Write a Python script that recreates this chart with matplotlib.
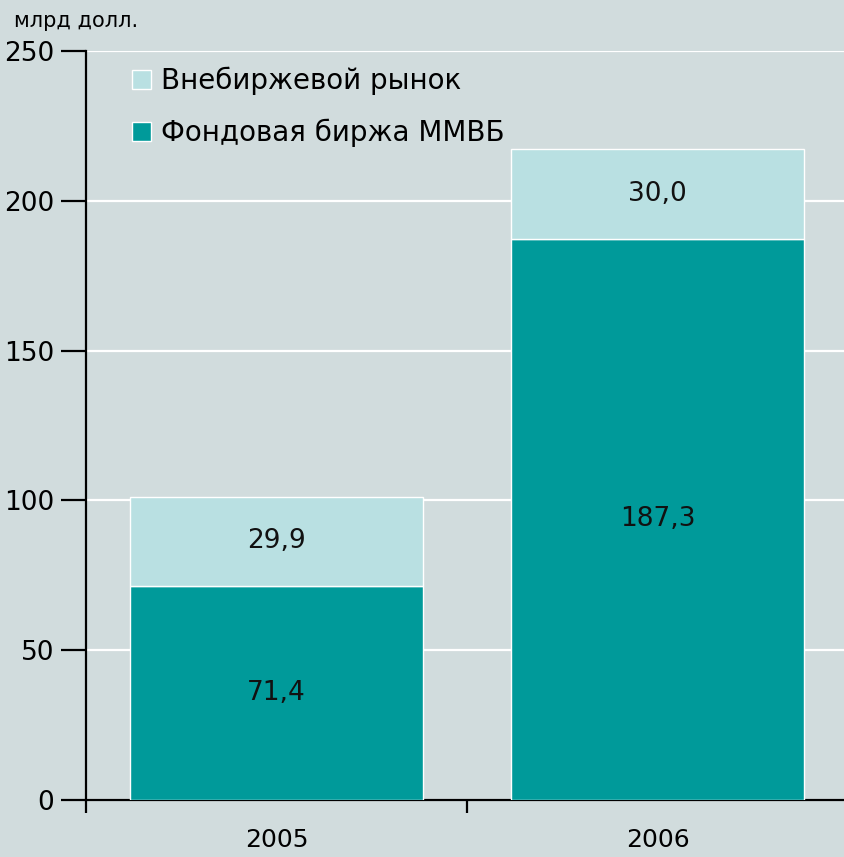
import matplotlib.pyplot as plt
from matplotlib.patches import Patch

years = ['2005', '2006']
exchange = [71.4, 187.3]   # Фондовая биржа ММВБ
otc = [29.9, 30.0]         # Внебиржевой рынок
exchange_labels = ['71,4', '187,3']
otc_labels = ['29,9', '30,0']

dark = '#009a9a'
light = '#b9e0e2'
bg = '#d1dcdd'

plt.rcParams['font.family'] = ['DejaVu Sans']

fig = plt.figure(figsize=(8.44, 8.57), dpi=100, facecolor=bg)
ax = fig.add_axes([0.1019, 0.0665, 0.903, 0.874])
ax.set_facecolor(bg)

x = range(len(years))
ax.bar(x, exchange, width=0.77, color=dark, edgecolor='white', linewidth=1, zorder=3)
ax.bar(x, otc, width=0.77, bottom=exchange, color=light, edgecolor='white', linewidth=1, zorder=3)

for i in x:
    ax.text(i, exchange[i] / 2, exchange_labels[i], ha='center', va='center',
            fontsize=19, color='#111111', zorder=4)
    ax.text(i, exchange[i] + otc[i] / 2, otc_labels[i], ha='center', va='center',
            fontsize=19, color='#111111', zorder=4)

ax.set_ylim(0, 250)
ax.set_xlim(-0.5, 1.5)
ax.set_yticks([0, 50, 100, 150, 200, 250])
ax.set_xticks([-0.5, 0.5])
ax.set_xticklabels([])
ax.set_xticks([0, 1], minor=True)
ax.set_xticklabels(years, minor=True)
ax.tick_params(axis='x', which='minor', length=0, labelsize=18, pad=20)
ax.tick_params(axis='x', which='major', length=9, width=1.6, direction='out')
ax.tick_params(axis='y', length=18, width=1.6, labelsize=19, pad=5)

ax.yaxis.grid(True, color='white', linewidth=1.6, zorder=1)
ax.set_axisbelow(True)
for s in ['top', 'right']:
    ax.spines[s].set_visible(False)
for s in ['left', 'bottom']:
    ax.spines[s].set_linewidth(1.6)

handles = [Patch(facecolor=light, edgecolor='white', label='Внебиржевой рынок'),
           Patch(facecolor=dark, edgecolor='white', label='Фондовая биржа ММВБ')]
ax.legend(handles=handles, loc='upper left', bbox_to_anchor=(0.027, 1.012),
          frameon=False, fontsize=20, handlelength=0.7, handleheight=0.7,
          handletextpad=0.35, labelspacing=0.85)

fig.text(0.016, 0.975, 'млрд долл.', fontsize=15, ha='left', va='center')

fig.savefig('out.png', dpi=100, facecolor=bg)
